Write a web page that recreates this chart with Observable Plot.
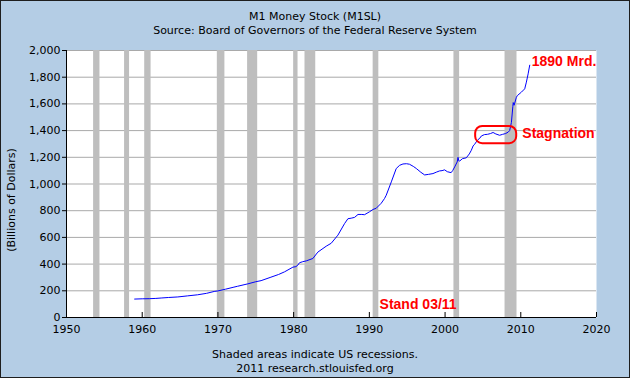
<!DOCTYPE html>
<html>
<head>
<meta charset="utf-8">
<script src="https://cdn.jsdelivr.net/npm/d3@7"></script>
<script src="https://cdn.jsdelivr.net/npm/@observablehq/plot@0.6"></script>
<style>
  html, body { margin: 0; padding: 0; }
  #wrap {
    position: relative; width: 630px; height: 378px; overflow: hidden;
    background: #b4cde5; box-shadow: inset 0 0 0 1px #1e1e1e;
    font-family: "DejaVu Sans", Verdana, sans-serif; font-size: 11px; color: #000;
  }
  .line { position: absolute; left: 0; width: 630px; text-align: center; line-height: 14px; white-space: nowrap; }
  #chart { position: absolute; left: 0; top: 36px; }
  #ylab { position: absolute; left: 12px; top: 200px; transform: translate(-50%, -50%) rotate(-90deg); white-space: nowrap; line-height: 14px; }
</style>
</head>
<body>
<div id="wrap">
  <div class="line" style="top:10px">M1 Money Stock (M1SL)</div>
  <div class="line" style="top:24px">Source: Board of Governors of the Federal Reserve System</div>
  <div id="chart"></div>
  <div id="ylab">(Billions of Dollars)</div>
  <div class="line" style="top:348px">Shaded areas indicate US recessions.</div>
  <div class="line" style="top:362px">2011 research.stlouisfed.org</div>
</div>
<script>
// M1 money stock, billions of dollars
const dates = [
  1959.0, 1960.0, 1961.0, 1961.8, 1962.5, 1963.5, 1964.7, 1966.0, 1967.3, 1968.5,
  1969.5, 1970.0, 1971.0, 1972.0, 1972.6, 1973.95, 1975.0, 1975.7, 1977.0, 1978.0,
  1978.8, 1979.9, 1980.3, 1980.55, 1980.77, 1981.2, 1981.66, 1982.54, 1983.2, 1984.3,
  1984.96, 1985.85, 1986.72, 1987.17, 1987.6, 1988.05, 1988.5, 1989.0, 1989.36, 1990.0,
  1990.47, 1990.9, 1991.57, 1992.0, 1992.23, 1992.9, 1993.55, 1994.0, 1994.44, 1994.9,
  1995.3, 1995.8, 1996.2, 1996.8, 1997.3, 1997.8, 1998.4, 1998.9, 1999.28, 1999.6,
  1999.94, 2000.3, 2000.8, 2001.0, 2001.27, 2001.6, 2001.71, 2001.8, 2001.93, 2002.3,
  2002.8, 2003.2, 2003.47, 2003.7, 2003.91, 2004.3, 2004.57, 2004.8, 2005.2, 2005.6,
  2006.0, 2006.34, 2006.7, 2007.2, 2007.6, 2008.0, 2008.32, 2008.53, 2008.76, 2008.95,
  2009.0, 2009.12, 2009.42, 2009.56, 2010.08, 2010.52, 2010.74, 2010.97, 2011.18
];
const m1 = [
  138, 140, 141, 143, 146, 150, 154, 162, 170, 181,
  195, 199, 212, 226, 234, 252, 268, 276, 302, 322,
  342, 377, 381, 392, 410, 418, 424, 442, 490, 534,
  556, 617, 703, 740, 744, 750, 772, 772, 770, 791,
  809, 818, 856, 891, 916, 1016, 1116, 1140, 1150, 1152,
  1148, 1132, 1116, 1088, 1068, 1072, 1078, 1090, 1098, 1100,
  1106, 1092, 1085, 1100, 1128, 1165, 1200, 1175, 1172, 1190,
  1196, 1225, 1253, 1285, 1298, 1330, 1342, 1360, 1370, 1372,
  1378, 1386, 1375, 1365, 1372, 1378, 1388, 1400, 1460, 1580,
  1610, 1590, 1650, 1663, 1688, 1713, 1763, 1825, 1890
];
// US recessions (NBER)
const recStart = [1953.58, 1957.67, 1960.33, 1969.92, 1973.92, 1980.0, 1981.5, 1990.5, 2001.17, 2007.92];
const recEnd   = [1954.42, 1958.33, 1961.17, 1970.92, 1975.25, 1980.58, 1982.92, 1991.25, 2001.92, 2009.5];
// axes
const yTicks = [0, 200, 400, 600, 800, 1000, 1200, 1400, 1600, 1800, 2000];
const xLabels = [1950, 1960, 1970, 1980, 1990, 2000, 2010, 2020];
const xTickMarks = [1960, 1970, 1980, 1990, 2000, 2010, 2020];
// annotations
const noteText = ["1890 Mrd.", "Stagnation", "Stand 03/11"];
const noteX = [2011.45, 2010.2, 1991.35];
const noteY = [1920, 1379, 100];
const boxX1 = [2004.04], boxX2 = [2009.46], boxY1 = [1302], boxY2 = [1431];

const series = dates.map((d, i) => ({date: d, value: m1[i]}));
const recessions = recStart.map((s, i) => ({start: s, end: recEnd[i]}));
const notes = noteText.map((t, i) => ({text: t, x: noteX[i], y: noteY[i]}));
const boxes = boxX1.map((v, i) => ({x1: v, x2: boxX2[i], y1: boxY1[i], y2: boxY2[i]}));

const chart = Plot.plot({
  width: 630, height: 310,
  marginTop: 14, marginRight: 34, marginBottom: 29, marginLeft: 66,
  x: {domain: [1950, 2020]},
  y: {domain: [0, 2000]},
  style: {background: "transparent", fontFamily: "DejaVu Sans, Verdana, sans-serif", fontSize: "11px", color: "#000", overflow: "visible"},
  marks: [
    Plot.frame({fill: "white", stroke: "none"}),
    Plot.gridY(yTicks, {stroke: "#a9a9a9", strokeOpacity: 1}),
    Plot.rect(recessions, {x1: "start", x2: "end", fill: "#bebebe"}),
    Plot.ruleX([1950], {stroke: "#000"}),
    Plot.ruleY([0], {stroke: "#000"}),
    Plot.line(series, {x: "date", y: "value", stroke: "#0000ff", strokeWidth: 1}),
    Plot.rect(boxes, {x1: "x1", x2: "x2", y1: "y1", y2: "y2", stroke: "#ff0000", strokeWidth: 2, fill: "none", rx: 7}),
    Plot.text(notes, {x: "x", y: "y", text: "text", fill: "#ff0000", fontWeight: "bold", fontSize: 14, fontFamily: "Liberation Sans, Arial, sans-serif", textAnchor: "start"}),
    Plot.axisY({ticks: yTicks, tickSize: 4, tickPadding: 2, tickFormat: d3.format(","), label: null, stroke: "#000"}),
    Plot.axisX({ticks: xTickMarks, tickSize: 5, dy: -5, tickFormat: () => "", label: null, stroke: "#000"}),
    Plot.axisX({ticks: xLabels, tickSize: 0, tickPadding: 8, tickFormat: d => String(d), label: null})
  ]
});
document.getElementById("chart").appendChild(chart);
</script>
</body>
</html>
